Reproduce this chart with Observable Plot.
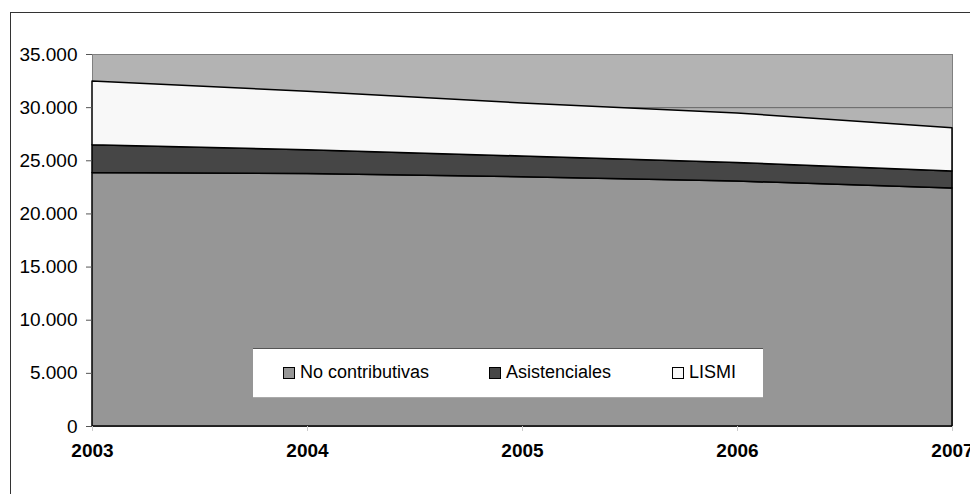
<!DOCTYPE html>
<html>
<head>
<meta charset="utf-8">
<script src="https://cdn.jsdelivr.net/npm/d3@7"></script>
<script src="https://cdn.jsdelivr.net/npm/@observablehq/plot@0.6"></script>
<style>
  body { margin: 0; background: #fff; font-family: "Liberation Sans", Arial, sans-serif; }
  #wrap { position: relative; width: 970px; height: 494px; overflow: hidden; }
  #wrap svg { position: absolute; left: 0; top: 0; }
  #border { position: absolute; left: 10px; top: 12px; width: 980px; height: 500px; border: 1px solid #333; box-sizing: border-box; }
  #legend { position: absolute; left: 253px; top: 348px; width: 510px; height: 50px; background: #fff;
            border-top: 1px solid #555; border-bottom: 1px solid #aaa; box-sizing: border-box; font-size: 18px; color: #000; }
  .item { position: absolute; top: 13px; display: flex; align-items: center; white-space: nowrap; }
  .sw { width: 10px; height: 10px; border: 1px solid #000; margin-right: 5px; }
</style>
</head>
<body>
<div id="wrap">
  <div id="border"></div>
  <div id="chart"></div>
  <div id="legend"></div>
</div>
<script>
const years = [2003, 2004, 2005, 2006, 2007];
const series = ["No contributivas", "Asistenciales", "LISMI"];
const noContributivas = [23850, 23750, 23450, 23050, 22400];
const asistenciales = [2600, 2250, 1950, 1750, 1600];
const lismi = [6000, 5500, 5000, 4650, 4050];
const yTicks = [0, 5000, 10000, 15000, 20000, 25000, 30000, 35000];
const colors = ["#969696", "#464646", "#f8f8f8"];

const values = [noContributivas, asistenciales, lismi];
const data = [];
series.forEach((s, i) => years.forEach((yr, j) => data.push({serie: s, year: yr, value: values[i][j]})));

const fmt = d => d3.format(",")(d).replace(/,/g, ".");

const plot = Plot.plot({
  width: 970,
  height: 494,
  marginLeft: 92,
  marginRight: 18,
  marginTop: 54,
  marginBottom: 68,
  style: {fontFamily: "Liberation Sans, Arial, sans-serif", fontSize: "19px", color: "#000", background: "transparent"},
  x: {domain: [2003, 2007], ticks: years, tickFormat: d => String(d), label: null},
  y: {domain: [0, 35000], ticks: yTicks, tickFormat: fmt, label: null},
  color: {domain: series, range: colors},
  marks: [
    Plot.frame({fill: "#b3b3b3", stroke: "#808080"}),
    Plot.ruleY(yTicks.filter(d => d > 0 && d < 35000), {stroke: "#666", strokeWidth: 1}),
    Plot.areaY(data, Plot.stackY({x: "year", y: "value", fill: "serie", order: series, stroke: "#000", strokeWidth: 1.5})),
    Plot.axisY({ticks: yTicks, tickFormat: fmt, tickSize: 6, tickPadding: 9, stroke: "#555", fontSize: 19, label: null}),
    Plot.axisX({ticks: years, tickFormat: d => String(d), tickSize: 5, tickPadding: 12, stroke: "#ccc", fontSize: 19, fontWeight: "bold", label: null})
  ]
});
document.getElementById("chart").appendChild(plot);

const leg = document.getElementById("legend");
const lefts = [30, 236, 419];
series.forEach((s, i) => {
  const it = document.createElement("div");
  it.className = "item";
  it.style.left = lefts[i] + "px";
  it.innerHTML = `<span class="sw" style="background:${colors[i]}"></span><span>${s}</span>`;
  leg.appendChild(it);
});
</script>
</body>
</html>
